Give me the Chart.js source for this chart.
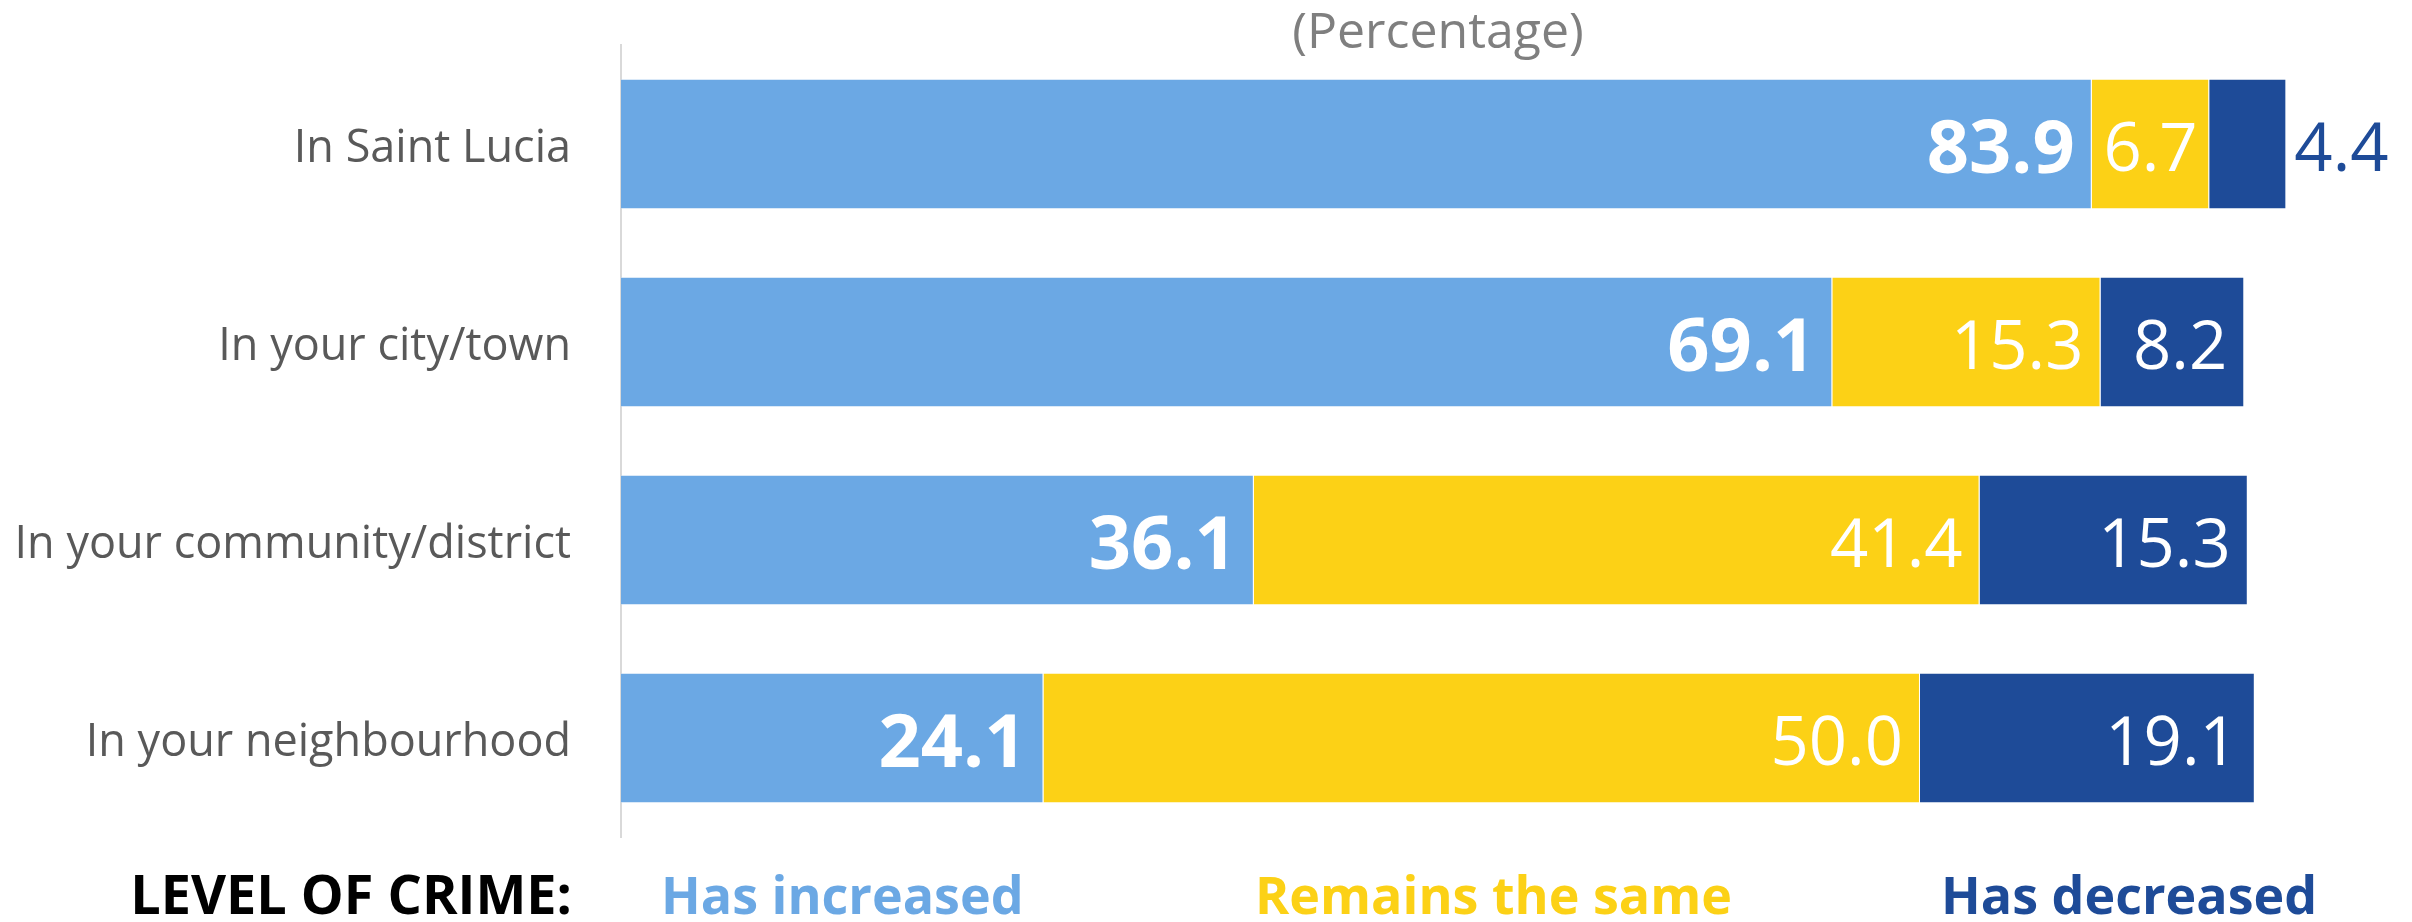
<!DOCTYPE html>
<html>
<head>
<meta charset="utf-8">
<script src="https://cdn.jsdelivr.net/npm/chart.js@4/dist/chart.umd.min.js"></script>
<style>
  html, body { margin: 0; padding: 0; background: #ffffff; }
  #wrap { width: 2412px; height: 922px; }
</style>
</head>
<body>
<div id="wrap"><canvas id="chart" width="2412" height="922"></canvas></div>
<script>
// data
var categories = ["In Saint Lucia", "In your city/town", "In your community/district", "In your neighbourhood"];
var increased = [83.9, 69.1, 36.1, 24.1];
var same = [6.7, 15.3, 41.4, 50.0];
var decreased = [4.4, 8.2, 15.3, 19.1];
var seriesNames = ["Has increased", "Remains the same", "Has decreased"];
var colors = ["#6BA8E4", "#FCD116", "#1E4B98"];
var titleText = "(Percentage)";
var legendTitle = "LEVEL OF CRIME:";

var FONT = "'Open Sans', 'Noto Sans', sans-serif";

// data labels at the end of each segment
var labelPlugin = {
    id: "segLabels",
    afterDatasetsDraw: function (chart) {
        var ctx = chart.ctx;
        var last = chart.data.datasets.length - 1;
        ctx.save();
        ctx.textBaseline = "middle";
        for (var d = 0; d < chart.data.datasets.length; d++) {
            var meta = chart.getDatasetMeta(d);
            var vals = chart.data.datasets[d].data;
            for (var i = 0; i < meta.data.length; i++) {
                var bar = meta.data[i];
                var txt = vals[i].toFixed(1);
                var left = bar.base;
                var right = bar.x;
                if (d == 0) {
                    ctx.font = "bold 74px " + FONT;
                } else {
                    ctx.font = "67px " + FONT;
                }
                var w = ctx.measureText(txt).width;
                var y = bar.y + 8;
                if (d == last && right - left < w + 20) {
                    // does not fit, goes after the bar
                    ctx.fillStyle = colors[d];
                    ctx.textAlign = "left";
                    ctx.fillText(txt, right + 8, y);
                } else if (right - left < w + 36) {
                    ctx.fillStyle = "#ffffff";
                    ctx.textAlign = "center";
                    ctx.fillText(txt, (left + right) / 2, y);
                } else {
                    ctx.fillStyle = "#ffffff";
                    ctx.textAlign = "right";
                    ctx.fillText(txt, right - 17, y);
                }
            }
        }
        ctx.restore();
    }
};

// title on top and coloured text legend at the bottom
var decoPlugin = {
    id: "deco",
    afterDraw: function (chart) {
        var ctx = chart.ctx;
        ctx.save();
        ctx.textBaseline = "middle";
        ctx.textAlign = "center";
        ctx.font = "50px " + FONT;
        ctx.fillStyle = "#7F7F7F";
        ctx.fillText(titleText, 1438, 34);

        var ly = 899;
        ctx.font = "bold 54px " + FONT;
        ctx.textAlign = "right";
        ctx.fillStyle = "#000000";
        ctx.fillText(legendTitle, 572, ly);
        var xs = [661, 1255, 1941];
        ctx.font = "bold 52px " + FONT;
        ctx.textAlign = "left";
        for (var i = 0; i < seriesNames.length; i++) {
            ctx.fillStyle = colors[i];
            ctx.fillText(seriesNames[i], xs[i], ly);
        }
        ctx.restore();
    }
};

var ctx = document.getElementById("chart");
var myChart = new Chart(ctx, {
    type: "bar",
    data: {
        labels: categories,
        datasets: [
            { label: seriesNames[0], data: increased, backgroundColor: colors[0], borderColor: "rgba(255,255,255,0.4)", borderWidth: 1 },
            { label: seriesNames[1], data: same, backgroundColor: colors[1], borderColor: "rgba(255,255,255,0.4)", borderWidth: 1 },
            { label: seriesNames[2], data: decreased, backgroundColor: colors[2], borderColor: "rgba(255,255,255,0.4)", borderWidth: 1 }
        ]
    },
    options: {
        indexAxis: "y",
        responsive: false,
        animation: false,
        barPercentage: 0.66,
        categoryPercentage: 1,
        layout: { padding: { left: 0, right: 38, top: 45, bottom: 85 } },
        plugins: {
            legend: { display: false },
            tooltip: { enabled: false },
            title: { display: false }
        },
        scales: {
            x: {
                stacked: true,
                display: false,
                min: 0,
                max: 100
            },
            y: {
                stacked: true,
                grid: { display: false, drawTicks: false },
                border: { display: true, color: "#D9D9D9", width: 2 },
                ticks: {
                    color: "#595959",
                    font: { family: FONT, size: 45 },
                    padding: 50,
                    labelOffset: 5
                },
                afterFit: function (scale) {
                    scale.width = 621;
                    scale.paddingTop = 0;
                    scale.paddingBottom = 0;
                }
            }
        }
    },
    plugins: [labelPlugin, decoPlugin]
});
</script>
</body>
</html>
